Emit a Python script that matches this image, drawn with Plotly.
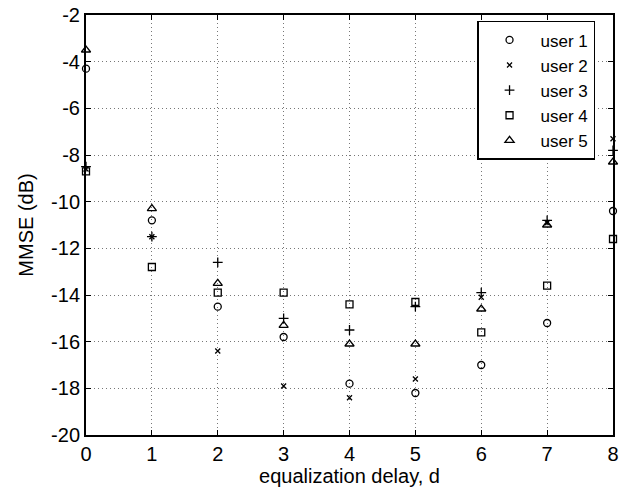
import plotly.graph_objects as go

delays = [0, 1, 2, 3, 4, 5, 6, 7, 8]
user1 = [-4.3, -10.8, -14.5, -15.8, -17.8, -18.2, -17.0, -15.2, -10.4]
user2 = [-8.6, -11.5, -16.4, -17.9, -18.4, -17.6, -14.1, -10.9, -7.3]
user3 = [-8.5, -11.5, -12.6, -15.0, -15.5, -14.5, -13.9, -10.8, -7.8]
user4 = [-8.7, -12.8, -13.9, -13.9, -14.4, -14.3, -15.6, -13.6, -11.6]
user5 = [-3.5, -10.3, -13.5, -15.3, -16.1, -16.1, -14.6, -11.0, -8.3]

x_ticks = [0, 1, 2, 3, 4, 5, 6, 7, 8]
y_ticks = [-20, -18, -16, -14, -12, -10, -8, -6, -4, -2]
y_tick_labels = ["-20", "-18", "-16", "-14", "-12", "-10", "-8", "-6", "-4", "-2"]

names = ["user 1", "user 2", "user 3", "user 4", "user 5"]
series = [user1, user2, user3, user4, user5]
symbols = ["circle-open", "x-thin-open", "cross-thin-open", "square-open", "triangle-up-open"]
sizes = [7, 5, 7, 7, 8]

fig = go.Figure()
for i, (n, s) in enumerate(zip(names, series)):
    fig.add_trace(go.Scatter(
        x=delays, y=s, mode="markers", name=n, cliponaxis=False,
        marker=dict(symbol=symbols[i], size=sizes[i], color="black",
                    line=dict(color="black", width=1.3)),
    ))

font = "Liberation Sans, Arial, sans-serif"
axis_common = dict(
    showline=True, linecolor="black", linewidth=2, mirror="ticks",
    ticks="inside", ticklen=5, tickcolor="black", tickwidth=1,
    showgrid=True, gridcolor="#777777", griddash="1px,3px", gridwidth=1,
    zeroline=False, tickfont=dict(family=font, size=20, color="black"),
)
fig.update_xaxes(range=[0, 8], tickvals=x_ticks,
                 title=dict(text="equalization delay, d", font=dict(family=font, size=20, color="black"), standoff=3),
                 **axis_common)
fig.update_yaxes(range=[-20, -2], tickvals=y_ticks, ticktext=y_tick_labels,
                 title=dict(text="MMSE (dB)", font=dict(family=font, size=20, color="black"), standoff=12),
                 **axis_common)

fig.update_layout(
    width=623, height=489,
    margin=dict(l=86, r=4, t=15, b=54),
    paper_bgcolor="white", plot_bgcolor="white",
    showlegend=True,
    legend=dict(
        x=0.742, y=0.986, xanchor="left", yanchor="top",
        bgcolor="white", bordercolor="black", borderwidth=1.5,
        font=dict(family=font, size=17, color="black"),
        itemwidth=52, traceorder="normal",
    ),
)

fig.write_html("out.html")
